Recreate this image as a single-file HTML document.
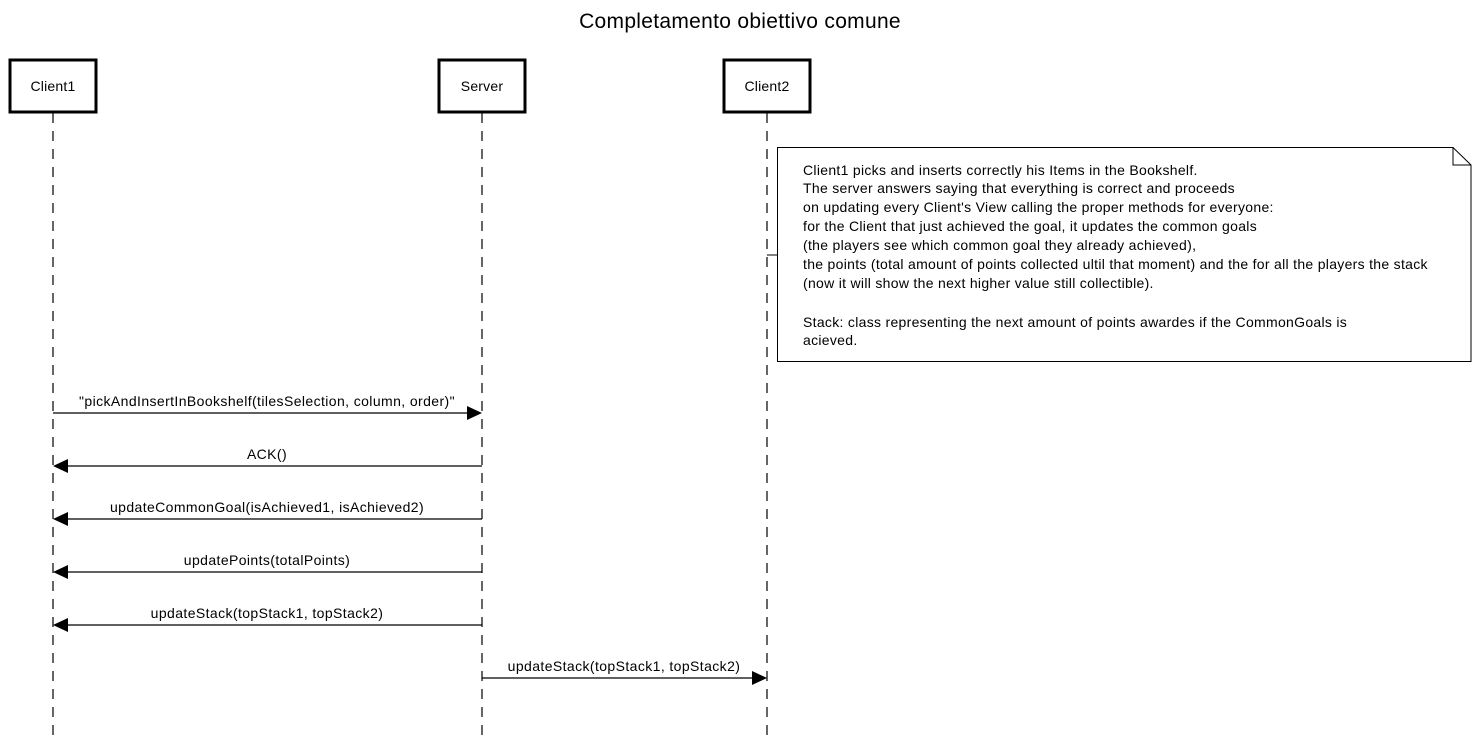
<!DOCTYPE html>
<html><head><style>
body{margin:0;background:#fff;}
svg{display:block;font-family:"Liberation Sans",Arial,sans-serif;}
</style></head><body>
<svg width="1480" height="743" xmlns="http://www.w3.org/2000/svg">
<text x="740" y="28" font-size="21" letter-spacing="0.3" text-anchor="middle">Completamento obiettivo comune</text>
<g stroke="#000" stroke-width="1.2" stroke-dasharray="10,8">
<line x1="53" y1="113" x2="53" y2="743"/>
<line x1="482" y1="113" x2="482" y2="743"/>
<line x1="767" y1="113" x2="767" y2="743"/>
</g>
<g fill="#fff" stroke="#000" stroke-width="3">
<rect x="10" y="60" width="86" height="52"/>
<rect x="439" y="60" width="86" height="52"/>
<rect x="724" y="60" width="86" height="52"/>
</g>
<g font-size="14" text-anchor="middle" letter-spacing="0.2">
<text x="53" y="91">Client1</text>
<text x="482" y="91">Server</text>
<text x="767" y="91">Client2</text>
</g>
<line x1="767" y1="255" x2="777" y2="255" stroke="#000"/>
<path d="M777.5 147.5 H1453 L1471 165 V361.5 H777.5 Z" fill="#fff" stroke="#000"/>
<path d="M1453 147.5 V165 H1471" fill="none" stroke="#000"/>
<g font-size="14" letter-spacing="0.3">
<text x="803" y="175">Client1 picks and inserts correctly his Items in the Bookshelf.</text>
<text x="803" y="193">The server answers saying that everything is correct and proceeds</text>
<text x="803" y="212">on updating every Client's View calling the proper methods for everyone:</text>
<text x="803" y="231">for the Client that just achieved the goal, it updates the common goals</text>
<text x="803" y="250">(the players see which common goal they already achieved),</text>
<text x="803" y="269">the points (total amount of points collected ultil that moment) and the for all the players the stack</text>
<text x="803" y="288">(now it will show the next higher value still collectible).</text>
<text x="803" y="327">Stack: class representing the next amount of points awardes if the CommonGoals is</text>
<text x="803" y="345">acieved.</text>
</g>
<g stroke="#000" stroke-width="1.2">
<line x1="53" y1="413" x2="468" y2="413"/>
<line x1="68" y1="466" x2="482" y2="466"/>
<line x1="68" y1="519" x2="482" y2="519"/>
<line x1="68" y1="572" x2="482" y2="572"/>
<line x1="68" y1="625" x2="482" y2="625"/>
<line x1="482" y1="678" x2="753" y2="678"/>
</g>
<g fill="#000">
<path d="M482 413 L467 406 V420 Z"/>
<path d="M53 466 L68 459 V473 Z"/>
<path d="M53 519 L68 512 V526 Z"/>
<path d="M53 572 L68 565 V579 Z"/>
<path d="M53 625 L68 618 V632 Z"/>
<path d="M767 678 L752 671 V685 Z"/>
</g>
<g font-size="14" letter-spacing="0.4" text-anchor="middle">
<text x="267" y="406">"pickAndInsertInBookshelf(tilesSelection, column, order)"</text>
<text x="267" y="459">ACK()</text>
<text x="267" y="512">updateCommonGoal(isAchieved1, isAchieved2)</text>
<text x="267" y="565">updatePoints(totalPoints)</text>
<text x="267" y="618">updateStack(topStack1, topStack2)</text>
<text x="624" y="671">updateStack(topStack1, topStack2)</text>
</g>
</svg>
</body></html>
